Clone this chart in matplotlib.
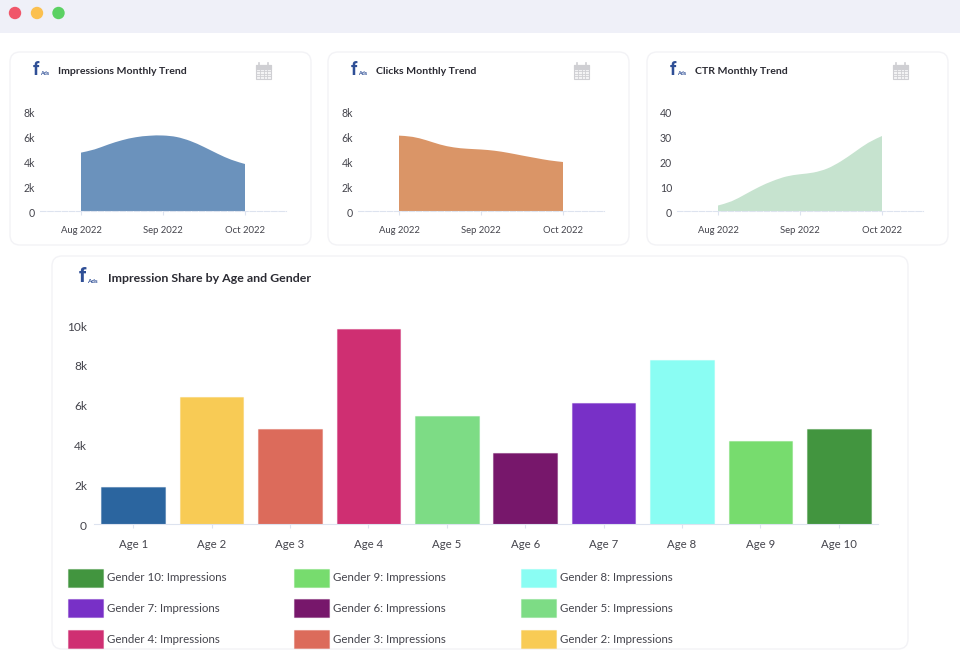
# Dashboard screenshot: three monthly trend cards and one bar chart card
# ----------------------------------------------------------------------------------
import matplotlib
matplotlib.use('Agg')
import matplotlib.pyplot as plt
from matplotlib.patches import FancyBboxPatch, Rectangle, Circle, Patch, PathPatch
from matplotlib.path import Path
from matplotlib.colors import to_rgba
from matplotlib.transforms import ScaledTranslation

plt.rcParams['font.family'] = ['Lato', 'DejaVu Sans']
# ----------------------------------------------------------------------------------
# Data (curve read at every sixth of the distance between months)
curve_pos = [0, 1/6, 2/6, 3/6, 4/6, 5/6, 1, 7/6, 8/6, 9/6, 10/6, 11/6, 2]
impressions = [4.67, 4.93, 5.32, 5.66, 5.90, 6.02, 6.04, 5.92, 5.60, 5.12, 4.58, 4.10, 3.76]
clicks = [6.03, 5.93, 5.66, 5.32, 5.09, 4.98, 4.92, 4.82, 4.65, 4.44, 4.24, 4.05, 3.92]
ctr = [2.2, 3.9, 6.7, 9.6, 12.0, 13.8, 14.7, 15.4, 17.0, 19.9, 23.6, 27.3, 30.0]
months = ['Aug 2022', 'Sep 2022', 'Oct 2022']
trend_ticks_k = [0, 2, 4, 6, 8]
trend_labels_k = ['0', '2k', '4k', '6k', '8k']
ctr_ticks = [0, 10, 20, 30, 40]
ctr_labels = ['0', '10', '20', '30', '40']

ages = ['Age 1', 'Age 2', 'Age 3', 'Age 4', 'Age 5', 'Age 6', 'Age 7', 'Age 8', 'Age 9', 'Age 10']
age_values = [1.86, 6.38, 4.77, 9.80, 5.43, 3.57, 6.08, 8.24, 4.17, 4.77]
bar_ticks = [0, 2, 4, 6, 8, 10]
bar_labels = ['0', '2k', '4k', '6k', '8k', '10k']
bar_colors = ['#2b659f', '#f8cb55', '#dc6b5b', '#cf2f72', '#7ddc85',
              '#77176b', '#7830c7', '#8afdf3', '#77dc6e', '#42953f']
gender_names = ['Gender %d: Impressions' % n for n in range(1, 11)]
legend_columns = [[9, 6, 3], [8, 5, 2], [7, 4, 1]]
# ----------------------------------------------------------------------------------
W, H = 960, 662
fig = plt.figure(figsize=(W / 100, H / 100), dpi=100, facecolor='white')

# Overlay in pixel coordinates for the window chrome and the cards
bg = fig.add_axes([0, 0, 1, 1], zorder=0)
bg.set_xlim(0, W)
bg.set_ylim(H, 0)
bg.axis('off')

text_dark = '#2b2b33'
text_tick = '#44444c'
line_color = '#dde3ef'


def px_axes(left, right, top, bottom):
    return fig.add_axes([left / W, 1 - bottom / H, (right - left) / W, (bottom - top) / H], zorder=2)


def card(x0, y0, x1, y1):
    bg.add_patch(FancyBboxPatch((x0 + 10, y0 + 10), x1 - x0 - 20, y1 - y0 - 20,
                                boxstyle='round,pad=10,rounding_size=10',
                                fc='white', ec='#f3f3f6', lw=1))


def fb_icon(x, y, size=13):
    bg.text(x, y, 'f', color='#2f4f96', fontsize=size, fontweight='bold', family='Roboto',
            ha='left', va='center')
    bg.text(x + size * 0.55, y + size * 0.28, 'Ads', color='#2f4f96', fontsize=size * 0.3, fontweight='bold',
            ha='left', va='center')


def calendar(x, y):
    # x, y is the top left corner of the icon
    grey = '#cfcfd3'
    bg.add_patch(Rectangle((x, y + 2), 15, 14, fc='#f4f4f5', ec=grey, lw=0.8))
    bg.add_patch(Rectangle((x, y + 2), 15, 3.5, fc=grey, ec=grey, lw=0.8))
    for dx in [3.75, 7.5, 11.25]:
        bg.plot([x + dx, x + dx], [y + 5.5, y + 16], color=grey, lw=0.6)
    for dy in [8, 10.7, 13.4]:
        bg.plot([x, x + 15], [y + dy, y + dy], color=grey, lw=0.6)
    for dx in [3, 12]:
        bg.plot([x + dx, x + dx], [y, y + 3], color=grey, lw=1.2)


def smooth_area(ax, xs, ys, color):
    # Closed area with a curved top that passes through the points that were read
    verts = [(xs[0], 0), (xs[0], ys[0])]
    codes = [Path.MOVETO, Path.LINETO]
    n = len(xs)
    for i in range(n - 1):
        a = max(i - 1, 0)
        d = min(i + 2, n - 1)
        verts.append((xs[i] + (xs[i + 1] - xs[a]) / 6, ys[i] + (ys[i + 1] - ys[a]) / 6))
        verts.append((xs[i + 1] - (xs[d] - xs[i]) / 6, ys[i + 1] - (ys[d] - ys[i]) / 6))
        verts.append((xs[i + 1], ys[i + 1]))
        codes += [Path.CURVE4, Path.CURVE4, Path.CURVE4]
    verts += [(xs[-1], 0), (xs[0], 0)]
    codes += [Path.LINETO, Path.CLOSEPOLY]
    ax.add_patch(PathPatch(Path(verts, codes), fc=color, ec='none'))


def shift_ylabels(ax, dy_points):
    # The value labels sit a little below their tick positions
    for label in ax.get_yticklabels():
        label.set_transform(label.get_transform() + ScaledTranslation(0, -dy_points / 72, fig.dpi_scale_trans))


def trend_chart(left, title, title_x, values, ticks, labels, fill):
    # left is the left pixel of the axis line
    ax = px_axes(left, left + 246, 111, 211)
    smooth_area(ax, curve_pos, values, fill)
    ax.set_xlim(-0.5, 2.5)
    ax.set_ylim(ticks[0], ticks[-1])
    ax.set_xticks([0, 1, 2])
    ax.set_xticklabels(months)
    ax.set_yticks(ticks)
    ax.set_yticklabels(labels)
    ax.patch.set_alpha(0)
    for s in ['top', 'right', 'left']:
        ax.spines[s].set_visible(False)
    ax.spines['bottom'].set_color(line_color)
    ax.spines['bottom'].set_linestyle((0, (5, 1.5)))
    ax.tick_params(axis='x', length=3, color=line_color, labelcolor=text_tick, labelsize=6.8, pad=8)
    ax.tick_params(axis='y', length=0, labelcolor=text_tick, labelsize=7.6, pad=3.5)
    shift_ylabels(ax, 1)
    bg.text(title_x, 71.5, title, color=text_dark, fontsize=7.55, fontweight='bold', ha='left', va='center')
    return ax


# ----------------------------------------------------------------------------------
# Window chrome
bg.add_patch(Rectangle((0, 0), W, 33, fc='#eff0f8', ec='none'))
for cx, c in zip([15, 37, 58.5], ['#f0566a', '#fbc04f', '#5bd163']):
    bg.add_patch(Circle((cx, 13), 6.2, fc=c, ec='none'))

# Cards
card(10, 52, 311, 245)
card(328, 52, 629, 245)
card(647, 52, 948, 245)
card(52, 256, 908, 649)

# Trend charts
trend_chart(40, 'Impressions Monthly Trend', 58, impressions, trend_ticks_k, trend_labels_k, '#6b92bc')
trend_chart(358, 'Clicks Monthly Trend', 376, clicks, trend_ticks_k, trend_labels_k, '#da9567')
trend_chart(677, 'CTR Monthly Trend', 695, ctr, ctr_ticks, ctr_labels, '#c6e3cf')
for x in [32.5, 350.5, 669.5]:
    fb_icon(x, 70)
for x in [256, 574, 893]:
    calendar(x, 63)

# Bar chart
ax = px_axes(94, 878, 325, 524)
ax.patch.set_alpha(0)
edge_colors = [to_rgba(c, 0.4) for c in bar_colors]
ax.bar(ages, age_values, width=0.81, color=bar_colors, edgecolor=edge_colors, linewidth=0.8)
ax.set_xlim(-0.5, 9.5)
ax.set_ylim(0, 10)
ax.set_yticks(bar_ticks)
ax.set_yticklabels(bar_labels)
for s in ['top', 'right', 'left']:
    ax.spines[s].set_visible(False)
ax.spines['bottom'].set_color(line_color)
ax.tick_params(axis='x', length=3, color=line_color, labelcolor=text_tick, labelsize=8.2, pad=8)
ax.tick_params(axis='y', length=0, labelcolor=text_tick, labelsize=8.6, pad=5)
shift_ylabels(ax, 0.8)

fb_icon(78.5, 277, size=15)
bg.text(108, 279, 'Impression Share by Age and Gender', color=text_dark, fontsize=8.95, fontweight='bold',
        ha='left', va='center')

# Legend, one block per column since the columns are not evenly spaced
for col_x, col in zip([68, 294, 521], legend_columns):
    handles = [Patch(fc=bar_colors[i], ec=to_rgba(bar_colors[i], 0.4), lw=0.8, label=gender_names[i]) for i in col]
    fig.legend(handles=handles, loc='upper left', bbox_to_anchor=(col_x / W, 1 - 568.5 / H),
               frameon=False, borderpad=0, borderaxespad=0,
               fontsize=8.3, handlelength=3.05, handleheight=2.06, handletextpad=0.35,
               labelspacing=1.08, labelcolor=text_tick)
# ----------------------------------------------------------------------------------
fig.savefig('out.png', dpi=100, facecolor='white')
